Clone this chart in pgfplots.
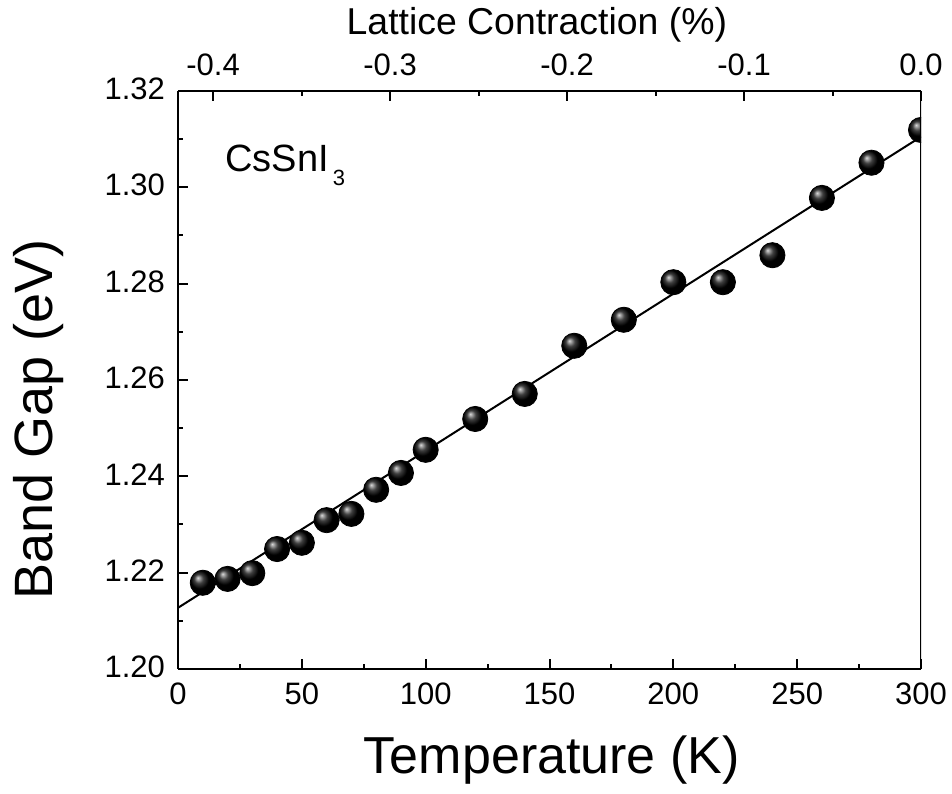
\documentclass[border=0pt]{standalone}
\usepackage{pgfplots}
\pgfplotsset{compat=1.18}
\usepackage{fontspec}
\setmainfont{Liberation Sans}
\begin{document}
\begin{tikzpicture}
\pgfplotsset{
  every axis/.append style={
    scale only axis, width=371.5pt, height=289pt,
    axis line style={line width=1pt},
    tick style={line width=1pt, black},
    major tick length=5pt, minor tick length=2.5pt,
    tick align=inside,
    tick label style={font=\fontsize{15.5}{18}\selectfont},
    /pgf/number format/assume math mode=true,
  }
}
\begin{axis}[
  xmin=0, xmax=300, ymin=1.20, ymax=1.32,
  axis x line*=bottom, axis y line*=left,
  xtick={0,50,...,300}, minor x tick num=1,
  ytick={1.20,1.22,...,1.32}, minor y tick num=1,
  yticklabel style={/tikz/xshift=-3pt, /tikz/yshift=1pt, /pgf/number format/.cd, fixed, fixed zerofill, precision=2},
  xticklabel style={/tikz/yshift=-3.5pt},
  xlabel={Temperature (K)},
  ylabel={Band Gap (eV)},
  xlabel style={font=\fontsize{26}{30}\selectfont, at={(rel axis cs:0.503,-0.157)}, anchor=center},
  ylabel style={font=\fontsize{27}{31}\selectfont, at={(rel axis cs:-0.188,0.431)}, anchor=center},
  clip marker paths=true,
]
\addplot[black, line width=1pt, no marks] coordinates {(0,1.2127) (300,1.3105)};
\addplot[only marks, mark=ball, mark size=6.3pt, mark options={ball color=black}] coordinates {
(10,1.2179) (20,1.2187) (30,1.2199) (40,1.2249) (50,1.2262) (60,1.2309) (70,1.2322)
(80,1.2372) (90,1.2407) (100,1.2455) (120,1.2519) (140,1.2571) (160,1.2671)
(180,1.2725) (200,1.2803) (220,1.2803) (240,1.2859) (260,1.2978) (280,1.3051) (300,1.3119)
};
\node[anchor=base west, font=\fontsize{19}{22}\selectfont, inner sep=0pt] at (axis cs:19,1.3032) {CsSnI\kern2pt\raisebox{-7pt}{\fontsize{11}{12}\selectfont 3}};
\draw[line width=1pt] (rel axis cs:1,0) -- (rel axis cs:1,1);
\coordinate (bl) at (rel axis cs:-0.2396,-0.2163);
\coordinate (tr) at (rel axis cs:1.0417,1.1574);
\end{axis}
\begin{axis}[
  xmin=-0.4198, xmax=0, ymin=0, ymax=1,
  axis x line*=top, hide y axis,
  xtick={-0.4,-0.3,...,0.0}, minor x tick num=1,
  xticklabel style={/tikz/yshift=4pt, /pgf/number format/.cd, fixed, fixed zerofill, precision=1},
  xlabel={Lattice Contraction (\%)},
  xlabel style={font=\fontsize{18.7}{22}\selectfont, at={(rel axis cs:0.483,1.114)}, anchor=center},
]
\addplot[draw=none] coordinates {(-0.2,0.5)};
\end{axis}
\pgfresetboundingbox
\path[use as bounding box] (bl) rectangle (tr);
\end{tikzpicture}
\end{document}
